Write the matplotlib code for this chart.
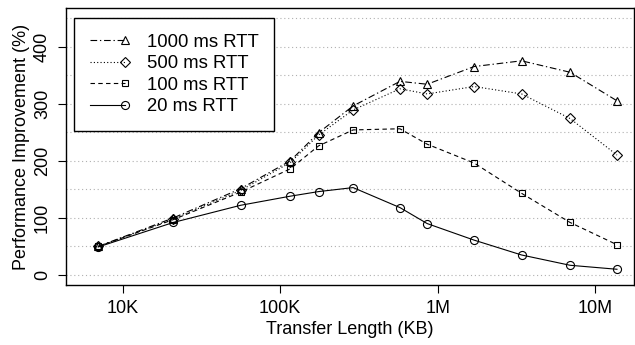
import matplotlib
matplotlib.use("Agg")
import matplotlib.pyplot as plt
from matplotlib.legend_handler import HandlerLine2DCompound

# tamaños de transferencia (KB)
transfer_kb = [7e3, 21e3, 56e3, 116e3, 175e3, 290e3, 575e3, 856e3,
               1.7e6, 3.4e6, 6.9e6, 13.7e6]

rtt_1000 = [50, 100, 151, 200, 249, 296, 339, 334, 365, 375, 355, 305]
rtt_500 = [50, 98, 148, 197, 245, 289, 326, 317, 330, 317, 274, 210]
rtt_100 = [50, 97, 145, 186, 226, 254, 256, 229, 196, 143, 92, 53]
rtt_20 = [49, 92, 122, 138, 146, 153, 118, 90, 61, 35, 17, 10]

x_ticks = [1e4, 1e5, 1e6, 1e7]
x_tick_labels = ["10K", "100K", "1M", "10M"]
y_ticks = [0, 100, 200, 300, 400]


class MarkerAtEnd(HandlerLine2DCompound):
    # linea corta con el marcador al final, como en R
    def get_xdata(self, legend, xdescent, ydescent, width, height, fontsize):
        xdata = [-xdescent, -xdescent + width]
        return xdata, [-xdescent + width]


plt.rcParams["font.family"] = ["Liberation Sans", "DejaVu Sans"]

fig = plt.figure(figsize=(6.35, 3.45), dpi=100)
ax = fig.add_axes([0.104, 0.174, 0.894, 0.803])

series = [
    (rtt_1000, "1000 ms RTT", "^", 6.2, (0, (6, 2.5, 1.2, 2.5))),
    (rtt_500, "500 ms RTT", "D", 5.2, (0, (1, 2))),
    (rtt_100, "100 ms RTT", "s", 5.0, (0, (4, 3))),
    (rtt_20, "20 ms RTT", "o", 5.8, "-"),
]
for vals, label, mk, ms, ls in series:
    ax.plot(transfer_kb, vals, color="black", linewidth=0.8, linestyle=ls,
            marker=mk, markersize=ms, markerfacecolor="none",
            markeredgecolor="black", markeredgewidth=0.8, label=label)

ax.set_xscale("log")
ax.set_xlim(4375, 1.75e7)
ax.set_ylim(-17.5, 467.6)

# rejilla punteada cada 50
for g in range(0, 451, 50):
    ax.axhline(g, color="#b0b0b0", linewidth=0.8, linestyle=(0, (1, 2.5)),
               zorder=0)

ax.set_xticks(x_ticks)
ax.set_xticklabels(x_tick_labels)
ax.minorticks_off()
ax.set_yticks(y_ticks)
ax.set_yticklabels([str(v) for v in y_ticks], rotation=90, va="center")
ax.tick_params(direction="out", length=5.8, width=0.8, labelsize=13, pad=5)

for s in ax.spines.values():
    s.set_linewidth(1.0)

ax.set_xlabel("Transfer Length (KB)", fontsize=13, labelpad=3)
ax.set_ylabel("Performance Improvement (%)", fontsize=13, labelpad=3)

leg = ax.legend(loc="upper left", bbox_to_anchor=(0.014, 0.964),
                borderaxespad=0, fontsize=13.3, frameon=True, fancybox=False,
                edgecolor="black", framealpha=1, handlelength=1.9,
                handletextpad=1.2, labelspacing=0.25, borderpad=0.85,
                handler_map={plt.Line2D: MarkerAtEnd()})
leg.get_frame().set_linewidth(1.0)

fig.savefig("out.png", dpi=100)
